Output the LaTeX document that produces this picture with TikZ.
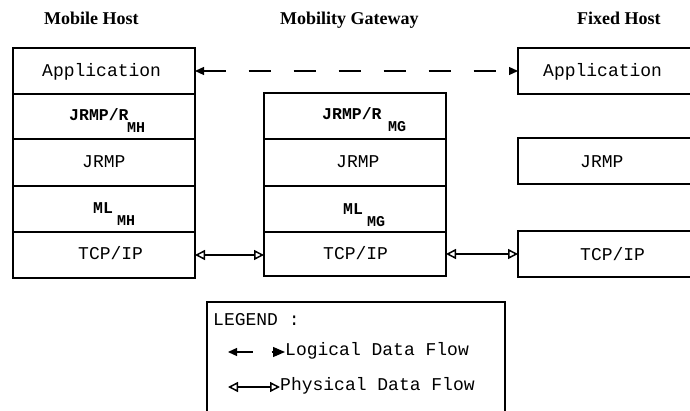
\documentclass[tikz,border=0pt]{standalone}
\usepackage{fontspec}
\setmainfont{Liberation Serif}
\newfontfamily\monofont{Liberation Mono}
\usetikzlibrary{arrows.meta}
\begin{document}
\begin{tikzpicture}[x=1pt,y=-1pt,
  box/.style={draw, line width=1.2pt, inner sep=0pt, outer sep=0pt},
  txt/.style={anchor=base west, inner sep=0pt, font=\monofont\fontsize{18}{20}\selectfont},
  btxt/.style={anchor=base west, inner sep=0pt, font=\monofont\bfseries\fontsize{16.5}{18}\selectfont},
  stxt/.style={anchor=base west, inner sep=0pt, font=\monofont\bfseries\fontsize{15}{16}\selectfont},
  ttl/.style={anchor=base west, inner sep=0pt, font=\bfseries\fontsize{18}{20}\selectfont},
  logical/.style={line width=1.2pt, dash pattern=on 22pt off 23pt,
    {Triangle[length=9pt,width=8pt]}-{Triangle[length=9pt,width=8pt]}},
  physical/.style={line width=1.5pt,
    {Triangle[open,length=10pt,width=10pt]}-{Triangle[open,length=10pt,width=10pt]}}
]
\useasboundingbox (0,0) rectangle (690,411);
\clip (0,0) rectangle (690,411);

% titles
\node[ttl] (t1) at (44,25) {Mobile Host};
\node[ttl] (t2) at (280,25) {Mobility Gateway};
\node[ttl] (t3) at (577,25) {Fixed Host};

% mobile host stack
\node[box, minimum width=182pt, minimum height=46pt] (lapp) at (104,71) {};
\node[box, minimum width=182pt, minimum height=45pt] (ljr) at (104,116.5) {};
\node[box, minimum width=182pt, minimum height=47pt] (ljrmp) at (104,162.5) {};
\node[box, minimum width=182pt, minimum height=46pt] (lml) at (104,209) {};
\node[box, minimum width=182pt, minimum height=46pt] (ltcp) at (104,255) {};

% mobility gateway stack
\node[box, minimum width=182pt, minimum height=46pt] (mjr) at (355,116) {};
\node[box, minimum width=182pt, minimum height=47pt] (mjrmp) at (355,162.5) {};
\node[box, minimum width=182pt, minimum height=46pt] (mml) at (355,209) {};
\node[box, minimum width=182pt, minimum height=44pt] (mtcp) at (355,254) {};

% fixed host boxes (cut off at the right edge)
\node[box, minimum width=202pt, minimum height=46pt] (rapp) at (619,71) {};
\node[box, minimum width=202pt, minimum height=46pt] (rjrmp) at (619,161) {};
\node[box, minimum width=202pt, minimum height=46pt] (rtcp) at (619,254) {};

% legend box (open at the bottom edge)
\node[box, minimum width=298pt, minimum height=138pt] (legend) at (356,371) {};

% texts: mobile host
\node[txt] (a1) at (42,77) {Application};
\node[btxt] (a2) at (69,121) {JRMP/R};
\node[stxt] (a2s) at (127,132.5) {MH};
\node[txt] (a3) at (82,167.5) {JRMP};
\node[btxt] (a4) at (93,214) {ML};
\node[stxt] (a4s) at (117,226) {MH};
\node[txt] (a5) at (78,260) {TCP/IP};

% texts: mobility gateway
\node[btxt] (b2) at (322,119.5) {JRMP/R};
\node[stxt] (b2s) at (388,132) {MG};
\node[txt] (b3) at (336,168) {JRMP};
\node[btxt] (b4) at (343,215) {ML};
\node[stxt] (b4s) at (367,226.5) {MG};
\node[txt] (b5) at (323,260) {TCP/IP};

% texts: fixed host
\node[txt] (c1) at (543,77) {Application};
\node[txt] (c3) at (580,168) {JRMP};
\node[txt] (c5) at (580,261) {TCP/IP};

% connectors
\draw[logical] (lapp.east) -- (rapp.west);
\draw[physical] (ltcp.east) -- (ltcp.east -| mtcp.west);
\draw[physical] (mtcp.east) -- (mtcp.east -| rtcp.west);

% legend contents
\node[txt] (lg0) at (213,325) {LEGEND :};
\coordinate (lga) at (228,352);
\coordinate (lgb) at (285,352);
\draw[line width=1.2pt, dash pattern=on 16pt off 19pt,
  {Triangle[length=9pt,width=8pt]}-{Triangle[length=12pt,width=10pt]}] (lga) -- (lgb);
\node[txt] (lg1) at (285,355) {Logical Data Flow};
\coordinate (lpa) at (228,387);
\coordinate (lpb) at (280,387);
\draw[physical] (lpa) -- (lpb);
\node[txt] (lg2) at (280,390) {Physical Data Flow};
\end{tikzpicture}
\end{document}
